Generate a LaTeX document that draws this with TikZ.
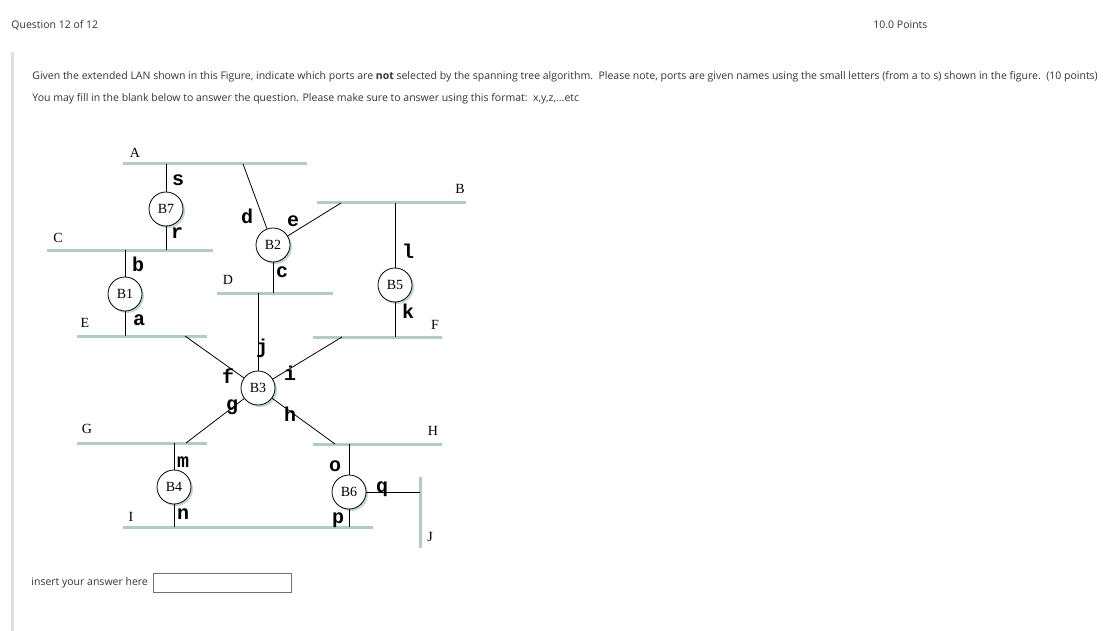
\documentclass[tikz,border=0pt]{standalone}
\usepackage{fontspec}
\setmainfont{Liberation Serif}
\setmonofont{Liberation Mono}
\newfontfamily\uifont{Open Sans}
\usetikzlibrary{positioning, shadows}

\definecolor{lanc}{HTML}{B3CACA}
\definecolor{uitext}{HTML}{333333}

\tikzset{
    lan/.style={draw=lanc, line width=3pt},
    bridge/.style={draw, circle, fill=white, minimum size=34pt, inner sep=0pt,
        font=\fontsize{14}{14}\selectfont,
        drop shadow={shadow xshift=2pt, shadow yshift=-2pt, fill=lanc, opacity=0.8}},
    port/.style={font=\fontsize{20}{20}\selectfont\ttfamily\bfseries, inner sep=0pt},
    lanname/.style={font=\fontsize{14}{14}\selectfont, inner sep=0pt},
    ui/.style={font=\uifont\fontsize{10.5}{12}\selectfont, text=uitext, inner sep=0pt, anchor=west}
}

\begin{document}
\begin{tikzpicture}[x=1pt, y=-1pt, line width=0.8pt]
        \useasboundingbox (0,0) rectangle (1119,631);
        \fill[black!12] (11,52) rectangle (14,631);

        % page text
        \node[ui] (qnum) at (11,25) {Question 12 of 12};
        \node[ui] (pts) at (873,25) {10.0 Points};
        \node[ui] (line1) at (32,77) {Given the extended LAN shown in this Figure, indicate which ports are \textbf{not} selected by the spanning tree algorithm.\ \ Please note, ports are given names using the small letters (from a to s) shown in the figure.\ \ (10 points)};
        \node[ui] (line2) at (32,99) {You may fill in the blank below to answer the question. Please make sure to answer using this format:\ \ x,y,z,...etc};
        \node[ui] (ask) at (31,583) {insert your answer here};
        \node[draw=black!55, line width=1pt, minimum width=138pt, minimum height=19pt, inner sep=0pt, anchor=west] (answer) at (153,582.5) {};

        % LANs
        \coordinate (A1) at (123,164); \coordinate (A2) at (307,164);
        \coordinate (B1l) at (317,203); \coordinate (B2l) at (466,203);
        \coordinate (C1) at (47,250); \coordinate (C2) at (213,250);
        \coordinate (D1) at (217,293); \coordinate (D2) at (333,293);
        \coordinate (E1) at (77,336); \coordinate (E2) at (207,336);
        \coordinate (F1) at (313,337); \coordinate (F2) at (442,337);
        \coordinate (G1) at (77,443); \coordinate (G2) at (207,443);
        \coordinate (H1) at (313,444); \coordinate (H2) at (442,444);
        \coordinate (I1) at (123,527); \coordinate (I2) at (373,527);
        \coordinate (J1) at (420,477); \coordinate (J2) at (420,548);
        \draw[lan] (A1) -- (A2);
        \draw[lan] (B1l) -- (B2l);
        \draw[lan] (C1) -- (C2);
        \draw[lan] (D1) -- (D2);
        \draw[lan] (E1) -- (E2);
        \draw[lan] (F1) -- (F2);
        \draw[lan] (G1) -- (G2);
        \draw[lan] (H1) -- (H2);
        \draw[lan] (I1) -- (I2);
        \draw[lan] (J1) -- (J2);
        \node[lanname] (lanA) at (135,153) {A};
        \node[lanname] (lanB) at (460,189) {B};
        \node[lanname] (lanC) at (58,238) {C};
        \node[lanname] (lanD) at (228,280) {D};
        \node[lanname] (lanE) at (85,323) {E};
        \node[lanname] (lanF) at (435,325) {F};
        \node[lanname] (lanG) at (87,429) {G};
        \node[lanname] (lanH) at (433,431) {H};
        \node[lanname] (lanI) at (131,517) {I};
        \node[lanname] (lanJ) at (430,537) {J};

        % points where bridges attach
        \coordinate (dA) at (243,164);
        \coordinate (eB) at (341,203);
        \coordinate (fE) at (185,336);
        \coordinate (iF) at (342,337);
        \coordinate (gG) at (186,443);
        \coordinate (hH) at (335,444);
        \coordinate (qJ) at (420,492);

        % bridges
        \node[bridge] (b7) at (166,209) {B7};
        \node[bridge] (b1) at (125,294) {B1};
        \node[bridge] (b2) at (273,245) {B2};
        \node[bridge] (b5) at (395,285) {B5};
        \node[bridge] (b3) at (258,388) {B3};
        \node[bridge] (b4) at (174,487) {B4};
        \node[bridge] (b6) at (349,492) {B6};

        \draw (b7) -- (b7 |- A1);
        \draw (b7) -- (b7 |- C1);
        \draw (b1) -- (b1 |- C1);
        \draw (b1) -- (b1 |- E1);
        \draw (b2) -- (dA);
        \draw (b2) -- (eB);
        \draw (b2) -- (b2 |- D1);
        \draw (b5) -- (b5 |- B1l);
        \draw (b5) -- (b5 |- F1);
        \draw (b3) -- (b3 |- D1);
        \draw (b3) -- (fE);
        \draw (b3) -- (iF);
        \draw (b3) -- (gG);
        \draw (b3) -- (hH);
        \draw (b4) -- (b4 |- G1);
        \draw (b4) -- (b4 |- I1);
        \draw (b6) -- (b6 |- H1);
        \draw (b6) -- (b6 |- I1);
        \draw (b6) -- (qJ);

        % ports
        \node[port] (s) at (178,180) {s};
        \node[port] (r) at (177,233) {r};
        \node[port] (b) at (138,264) {b};
        \node[port] (a) at (139,320) {a};
        \node[port] (d) at (247,216) {d};
        \node[port] (e) at (293,221) {e};
        \node[port] (c) at (282,272) {c};
        \node[port] (l) at (408,251) {l};
        \node[port] (k) at (408,311) {k};
        \node[port] (j) at (262,348) {j};
        \node[port] (f) at (228,376) {f};
        \node[port] (i) at (290,373) {i};
        \node[port] (g) at (232,407) {g};
        \node[port] (h) at (290,414) {h};
        \node[port] (m) at (183,462) {m};
        \node[port] (n) at (183,514) {n};
        \node[port] (o) at (335,466) {o};
        \node[port] (p) at (338,520) {p};
        \node[port] (q) at (382,489) {q};
    \end{tikzpicture}
\end{document}
